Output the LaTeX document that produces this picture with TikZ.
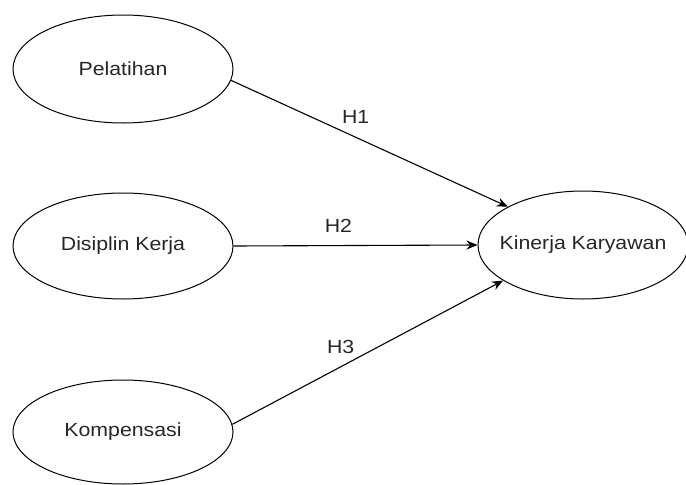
\documentclass[tikz,border=0pt]{standalone}
\usepackage{fontspec}
\setmainfont{Liberation Sans}[FakeStretch=1.12]
\usetikzlibrary{shapes.geometric,arrows.meta}

\begin{document}
\begin{tikzpicture}[
  x=1pt, y=-1pt,
  latent/.style={draw, ellipse, line width=1pt, inner ysep=0pt, inner xsep=-25pt, minimum width=220pt, minimum height=106pt, text=black!85, font=\fontsize{19}{22}\selectfont},
  path/.style={draw, line width=1.1pt, -{Stealth[length=11pt,width=9pt]}},
  hyp/.style={inner sep=0pt, above=13pt, text=black!85, font=\fontsize{19}{22}\selectfont}
]
\useasboundingbox (0,0) rectangle (686,485);

\node[latent, minimum height=108pt] (pel) at (123,69) {Pelatihan};
\node[latent] (dis) at (123,246) {Disiplin Kerja};
\node[latent, minimum height=104pt] (kom) at (123,432) {Kompensasi};
\node[latent, minimum width=210pt, minimum height=108pt] (kin) at (583,245) {Kinerja Karyawan};

\draw[path] (pel.-6) -- node[hyp, pos=.45] {H1} (kin.153);
\draw[path] (dis.east) -- node[hyp, pos=.43] {H2} (kin.west);
\draw[path] (kom.4) -- node[hyp, pos=.4] {H3} (kin.204);
\end{tikzpicture}
\end{document}
